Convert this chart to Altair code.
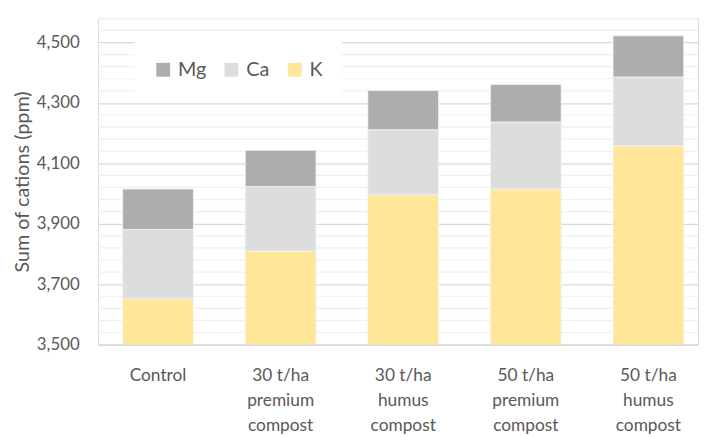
import altair as alt
import pandas as pd

# ---- data ----
categories = ["Control", "30 t/ha\npremium\ncompost", "30 t/ha\nhumus\ncompost",
              "50 t/ha\npremium\ncompost", "50 t/ha\nhumus\ncompost"]
k_vals = [3652, 3809, 3996, 4015, 4158]
ca_vals = [229, 214, 215, 222, 228]
mg_vals = [134, 120, 130, 124, 136]

series = ["Mg", "Ca", "K"]
series_colors = ["#ADADAD", "#DDDDDD", "#FFE699"]
stack_rank = {"K": 0, "Ca": 1, "Mg": 2}

major_ticks = [3500, 3700, 3900, 4100, 4300, 4500]
minor_ticks = [3540, 3580, 3620, 3660, 3740, 3780, 3820, 3860, 3940, 3980, 4020, 4060,
               4140, 4180, 4220, 4260, 4340, 4380, 4420, 4460, 4540, 4580]
y_domain = [3500, 4580]

rows = []
for i, c in enumerate(categories):
    for s, vals in (("K", k_vals), ("Ca", ca_vals), ("Mg", mg_vals)):
        rows.append({"cat": c, "series": s, "value": vals[i], "ord": stack_rank[s]})
df = pd.DataFrame(rows)
grid_df = pd.DataFrame({"value": minor_ticks})

FONT = "Lato"
TXT = "#595959"

yscale = alt.Scale(domain=y_domain, zero=False, nice=False)
yaxis = alt.Axis(
    title="Sum of cations (ppm)", values=major_ticks,
    labelExpr="format(datum.value, ',')",
    grid=True, gridColor="#D9D9D9", gridWidth=1.3,
    domain=False, ticks=False, labelPadding=19,
    labelFont=FONT, labelFontSize=17, labelColor=TXT,
    titleFont=FONT, titleFontSize=20, titleFontWeight="normal", titleColor=TXT,
    titlePadding=4,
)

minor = alt.Chart(grid_df).mark_rule(color="#EFEFEF", strokeWidth=1.2).encode(
    y=alt.Y("value:Q", scale=yscale, axis=yaxis)
)

bars = alt.Chart(df).mark_bar(clip=True, stroke="#F3F3F3", strokeWidth=0.8).encode(
    x=alt.X("cat:N", sort=categories,
            scale=alt.Scale(paddingInner=0.423, paddingOuter=0.159, align=0.634),
            axis=alt.Axis(title=None, labelAngle=0, ticks=False,
                          domainColor="#D9D9D9", domainWidth=1.3,
                          labelExpr="split(datum.label, '\\n')",
                          labelFont=FONT, labelFontSize=17.5, labelColor=TXT,
                          labelPadding=22, labelLineHeight=25.5, labelLimit=0)),
    y=alt.Y("value:Q", stack="zero", scale=yscale, axis=yaxis),
    color=alt.Color("series:N",
                    scale=alt.Scale(domain=series, range=series_colors),
                    legend=alt.Legend(title=None, orient="none", legendX=37, legendY=23,
                                      direction="horizontal", fillColor="white",
                                      padding=19, columnPadding=15, labelOffset=5,
                                      symbolType="square", symbolSize=196,
                                      symbolStrokeWidth=0,
                                      labelFont=FONT, labelFontSize=20, labelColor=TXT)),
    order=alt.Order("ord:Q", sort="ascending"),
)

chart = alt.layer(minor, bars).properties(
    width=607, height=330,
    autosize=alt.AutoSizeParams(type="none"),
    padding={"left": 91, "top": 8, "right": 2, "bottom": 90},
).configure_view(stroke=None).configure(background="white")

chart.save("out.html", embed_options={"renderer": "svg", "actions": False})
